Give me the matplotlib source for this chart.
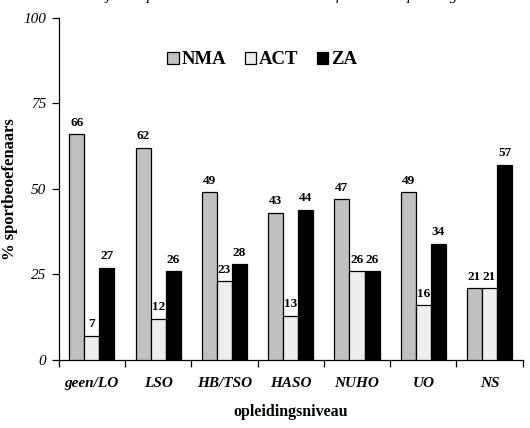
import numpy as np
import matplotlib
matplotlib.use("Agg")
import matplotlib.pyplot as plt
from matplotlib.patches import Patch


levels = ["geen/LO", "LSO", "HB/TSO", "HASO", "NUHO", "UO", "NS"]
nma = [66, 62, 49, 43, 47, 49, 21]
act = [7, 12, 23, 13, 26, 16, 21]
za = [27, 26, 28, 44, 26, 34, 57]

series = ["NMA", "ACT", "ZA"]
colors = ["#c0c0c0", "#eeeeee", "#000000"]

plt.rcParams["font.family"] = ["Liberation Serif", "DejaVu Serif"]

fig = plt.figure(figsize=(5.3, 4.28), dpi=100)
ax = fig.add_axes([0.1108, 0.1589, 0.8754, 0.7991])

x = np.arange(len(levels))
width = 0.227
for k, (name, vals, col) in enumerate(zip(series, [nma, act, za], colors)):
    pos = x + (k - 1) * width
    ax.bar(pos, vals, width, color=col, edgecolor="black", linewidth=0.9,
           label=name, zorder=3)
    for px, v in zip(pos, vals):
        ax.annotate(str(v), (px, v), xytext=(0, 4), textcoords="offset points",
                    ha="center", va="bottom", fontsize=9.5, fontweight="bold",
                    zorder=2)

ax.set_xlim(-0.5, len(levels) - 0.5)
ax.set_ylim(0, 100)
ax.set_yticks([0, 25, 50, 75, 100])
ax.set_yticklabels(["0", "25", "50", "75", "100"], fontsize=11, style="italic")
ax.tick_params(axis="y", direction="out", length=5, width=0.9, pad=4)

# group boundaries carry the tick marks, the names sit in between
ax.set_xticks(np.arange(-0.5, len(levels) + 0.5, 1.0))
ax.set_xticklabels([])
ax.set_xticks(x, minor=True)
ax.set_xticklabels(levels, minor=True, fontsize=11, fontweight="bold",
                   style="italic")
ax.tick_params(axis="x", which="major", direction="out", length=5, width=0.9)
ax.tick_params(axis="x", which="minor", length=0, pad=12)

for side in ["top", "right"]:
    ax.spines[side].set_visible(False)
for side in ["left", "bottom"]:
    ax.spines[side].set_linewidth(0.9)

ax.set_xlabel("opleidingsniveau", fontsize=11.5, fontweight="bold", labelpad=10)
ax.set_ylabel("% sportbeoefenaars", fontsize=12, fontweight="bold")
ax.yaxis.set_label_coords(-0.087, 0.5)

handles = [Patch(facecolor=c, edgecolor="black", linewidth=0.9) for c in colors]
leg = ax.legend(handles, series, loc="center", bbox_to_anchor=(0.439, 0.878),
                ncol=3, frameon=False, handlelength=0.6, handleheight=0.6,
                handletextpad=0.15, columnspacing=1.0,
                prop={"size": 13.5, "weight": "bold"})

fig.text(0.5, 0.999,
         "Resultaten bij alle sporters uit het onderzoek naar functie en opleidingsniveau",
         ha="center", va="baseline", fontsize=11, style="italic")

fig.savefig("out.png", dpi=100)
